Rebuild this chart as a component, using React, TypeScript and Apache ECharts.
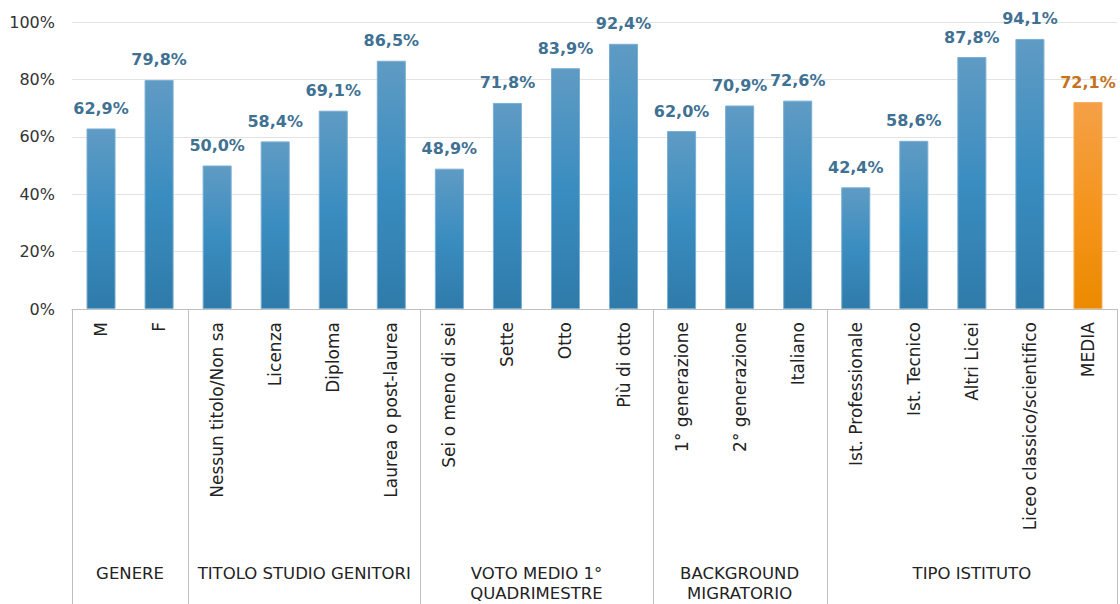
import React, { useEffect, useRef } from "react";
import * as echarts from "echarts";

const categories = [
  "M", "F",
  "Nessun titolo/Non sa", "Licenza", "Diploma", "Laurea o post-laurea",
  "Sei o meno di sei", "Sette", "Otto", "Più di otto",
  "1° generazione", "2° generazione", "Italiano",
  "Ist. Professionale", "Ist. Tecnico", "Altri Licei", "Liceo classico/scientifico",
  "MEDIA",
];
const values = [
  62.9, 79.8,
  50.0, 58.4, 69.1, 86.5,
  48.9, 71.8, 83.9, 92.4,
  62.0, 70.9, 72.6,
  42.4, 58.6, 87.8, 94.1,
  72.1,
];
const groupNames = [
  "GENERE",
  "TITOLO STUDIO GENITORI",
  "VOTO MEDIO 1°\nQUADRIMESTRE",
  "BACKGROUND\nMIGRATORIO",
  "TIPO ISTITUTO",
];
// number of categories in each group
const groupSizes = [2, 4, 4, 3, 5];
const yTicks = [0, 20, 40, 60, 80, 100];

const FONT = "DejaVu Sans";

export default function App() {
  const ref = useRef<HTMLDivElement>(null);
  useEffect(() => {
    document.body.style.margin = "0";
    const chart = echarts.init(ref.current!, null, { renderer: "svg" });
    const blueGrad = new echarts.graphic.LinearGradient(0, 0, 0, 1, [
      { offset: 0, color: "#5F9BC4" },
      { offset: 0.5, color: "#3A8DC0" },
      { offset: 1, color: "#2F7BAA" },
    ]);
    const orangeGrad = new echarts.graphic.LinearGradient(0, 0, 0, 1, [
      { offset: 0, color: "#F4A047" },
      { offset: 0.5, color: "#F5951E" },
      { offset: 1, color: "#EC8A00" },
    ]);
    const data = values.map((v, i) => {
      const isMedia = categories[i] === "MEDIA";
      return {
        value: v,
        itemStyle: {
          color: isMedia ? orangeGrad : blueGrad,
          borderColor: isMedia ? "#F6AE5E" : "#7AAED2",
          borderWidth: 1,
        },
        label: { color: isMedia ? "#C6721C" : "#3F7193" },
      };
    });
    chart.setOption({
      animation: false,
      grid: { left: 72, right: 3, top: 22, bottom: 295, containLabel: false },
      xAxis: {
        type: "category",
        data: categories,
        axisLine: { show: true, lineStyle: { color: "#BFBFBF", width: 1 } },
        axisTick: { show: false },
        axisLabel: {
          rotate: 90,
          interval: 0,
          margin: 13,
          fontFamily: FONT,
          fontSize: 17,
          color: "#222",
        },
      },
      yAxis: {
        type: "value",
        min: 0,
        max: 100,
        interval: 20,
        axisLine: { show: false },
        axisTick: { show: false },
        splitLine: { lineStyle: { color: "#E3E3E3", width: 1 } },
        axisLabel: {
          formatter: (v: number) => (yTicks.includes(v) ? v + "%" : ""),
          fontFamily: FONT,
          fontSize: 16,
          color: "#333",
          margin: 17,
        },
      },
      series: [
        {
          type: "bar",
          data,
          barWidth: "50%",
          label: {
            show: true,
            position: "top",
            distance: 12,
            fontFamily: FONT,
            fontWeight: "bold",
            fontSize: 16,
            formatter: (p: any) => p.value.toFixed(1).replace(".", ",") + "%",
          },
        },
      ],
    });

    const c0 = chart.convertToPixel({ xAxisIndex: 0 }, 0) as number;
    const c1 = chart.convertToPixel({ xAxisIndex: 0 }, 1) as number;
    const band = c1 - c0;
    const yBase = chart.convertToPixel({ yAxisIndex: 0 }, 0) as number;
    const graphics: any[] = [];
    let start = 0;
    const bounds: number[] = [0];
    groupSizes.forEach((s) => {
      start += s;
      bounds.push(start);
    });
    const xAt = (idx: number) => c0 - band / 2 + idx * band;
    bounds.forEach((b) => {
      const x = Math.round(xAt(b)) + 0.5;
      graphics.push({
        type: "line",
        shape: { x1: x, y1: yBase, x2: x, y2: 604 },
        style: { stroke: "#BFBFBF", lineWidth: 1 },
        silent: true,
      });
    });
    groupNames.forEach((name, gi) => {
      const cx = (xAt(bounds[gi]) + xAt(bounds[gi + 1])) / 2;
      graphics.push({
        type: "text",
        x: cx,
        y: 563,
        style: {
          text: name,
          fontFamily: FONT,
          fontSize: 16.5,
          fill: "#222",
          align: "center",
          verticalAlign: "top",
          lineHeight: 20,
        },
        silent: true,
      });
    });
    chart.setOption({ graphic: graphics });
    return () => chart.dispose();
  }, []);
  return <div ref={ref} style={{ width: 1120, height: 604 }} />;
}
